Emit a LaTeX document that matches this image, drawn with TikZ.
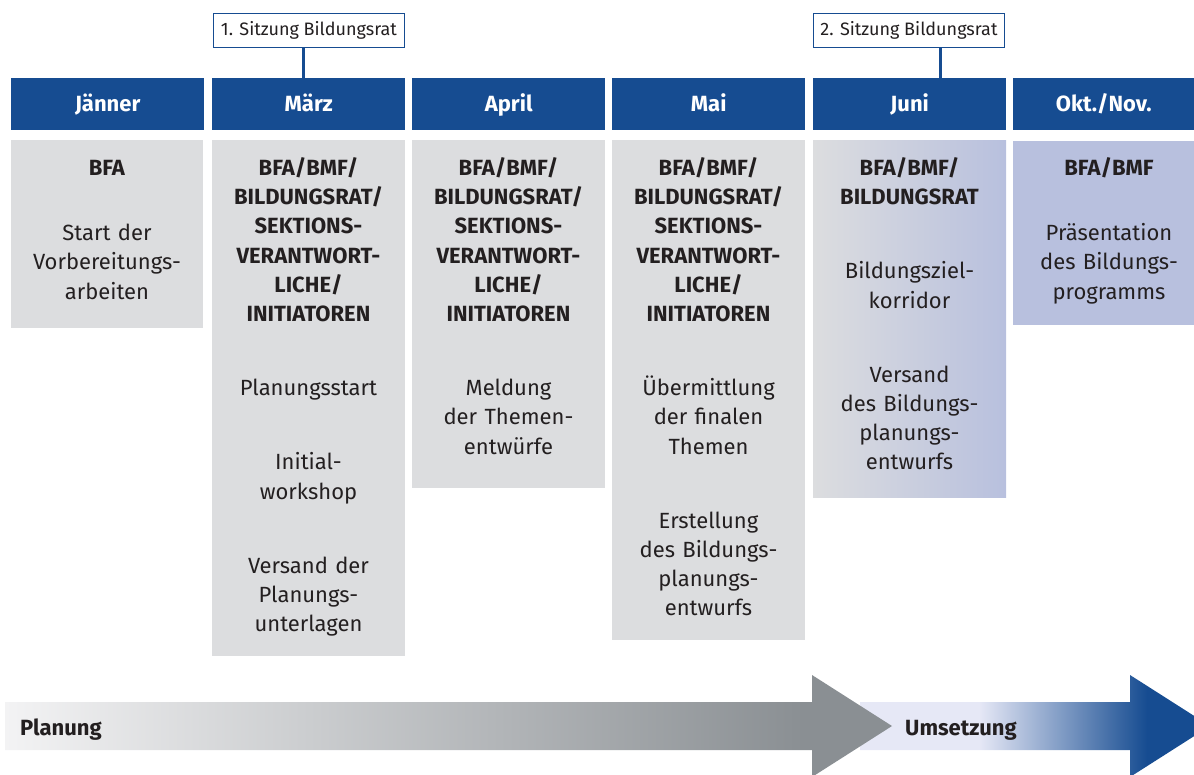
\documentclass[tikz,border=0pt]{standalone}
\usepackage{fontspec}
\setmainfont{Fira Sans}
\usetikzlibrary{positioning}

\definecolor{hdrblue}{RGB}{22,76,145}
\definecolor{boxgray}{RGB}{220,221,223}
\definecolor{boxlav}{RGB}{184,192,222}
\definecolor{textdark}{RGB}{35,31,32}
\definecolor{planlight}{RGB}{243,243,244}
\definecolor{plandark}{RGB}{138,143,147}
\definecolor{umlight}{RGB}{230,232,246}

\pgfdeclarehorizontalshading{planungshade}{100bp}{color(0bp)=(planlight); color(25bp)=(planlight); color(70bp)=(plandark); color(100bp)=(plandark)}
\pgfdeclarehorizontalshading{umsetzshade}{100bp}{color(0bp)=(umlight); color(25bp)=(umlight); color(42bp)=(umlight); color(66bp)=(hdrblue); color(100bp)=(hdrblue)}

\begin{document}
\begin{tikzpicture}[x=1pt,y=-1pt,
    month/.style={fill=hdrblue, text=white, font=\fontsize{22}{26}\selectfont\bfseries, minimum width=193pt, minimum height=52pt, text height=15pt, text depth=0pt, inner sep=0pt, anchor=north west},
    colbox/.style={fill=boxgray, minimum width=193pt, inner sep=0pt, anchor=north west},
    coltext/.style={text=textdark, font=\fontsize{22}{29.2}\selectfont, align=center, text width=185pt, inner sep=0pt, anchor=base},
    sitzung/.style={draw=hdrblue, line width=0.9pt, fill=white, text=textdark, font=\fontsize{18}{20}\selectfont, minimum width=191pt, minimum height=34pt, inner sep=0pt, anchor=north west},
    sitzline/.style={hdrblue, line width=3pt},
    phase/.style={text=textdark, font=\fontsize{22}{26}\selectfont\bfseries, inner sep=0pt, anchor=base west}]
  \useasboundingbox (0,0) rectangle (1194,774);

  % Sitzungen
  \node[sitzung] (sitz1) at (213,13) {1. Sitzung Bildungsrat};
  \node[sitzung] (sitz2) at (813,13) {2. Sitzung Bildungsrat};

  % Monate
  \node[month] (jan) at (11,78) {Jänner};
  \node[month] (maerz) at (212,78) {März};
  \node[month] (april) at (412,78) {April};
  \node[month] (mai) at (612,78) {Mai};
  \node[month] (juni) at (813,78) {Juni};
  \node[month, minimum width=181pt] (okt) at (1013,78) {Okt./Nov.};

  \coordinate (tick1) at (303,78);
  \coordinate (tick2) at (940,78);
  \draw[sitzline] (sitz1.south -| tick1) -- (tick1);
  \draw[sitzline] (sitz2.south -| tick2) -- (tick2);

  % Spalten
  \node[colbox, minimum width=192pt, minimum height=188pt] (jan-box) at (11,140) {};
  \node[colbox, minimum height=516pt] (maerz-box) at (212,140) {};
  \node[colbox, minimum height=348pt] (april-box) at (412,140) {};
  \node[colbox, minimum height=500pt] (mai-box) at (612,140) {};
  \node[colbox, minimum height=357pt, fill=none, left color=boxgray, right color=boxlav] (juni-box) at (813,140) {};
  \node[colbox, minimum width=181pt, minimum height=184pt, fill=boxlav] (okt-box) at (1013,141) {};

  \node[coltext] (jan-txt) at (107,175.5) {\textbf{BFA}\\[36pt]
    Start der\\ Vorbereitungs-\\ arbeiten};
  \node[coltext] (maerz-txt) at (308.5,175.5) {\textbf{BFA/BMF/}\\ \textbf{BILDUNGSRAT/}\\ \textbf{SEKTIONS-}\\
    \textbf{VERANTWORT-}\\ \textbf{LICHE/}\\ \textbf{INITIATOREN}\\[45pt]
    Planungsstart\\[45pt] Initial-\\ workshop\\[45pt] Versand der\\ Planungs-\\ unterlagen};
  \node[coltext] (april-txt) at (508.5,175.5) {\textbf{BFA/BMF/}\\ \textbf{BILDUNGSRAT/}\\ \textbf{SEKTIONS-}\\
    \textbf{VERANTWORT-}\\ \textbf{LICHE/}\\ \textbf{INITIATOREN}\\[45pt]
    Meldung\\ der Themen-\\ entwürfe};
  \node[coltext] (mai-txt) at (708.5,175.5) {\textbf{BFA/BMF/}\\ \textbf{BILDUNGSRAT/}\\ \textbf{SEKTIONS-}\\
    \textbf{VERANTWORT-}\\ \textbf{LICHE/}\\ \textbf{INITIATOREN}\\[45pt]
    Übermittlung\\ der finalen\\ Themen\\[45pt] Erstellung\\ des Bildungs-\\ planungs-\\ entwurfs};
  \node[coltext] (juni-txt) at (909.5,175.5) {\textbf{BFA/BMF/}\\ \textbf{BILDUNGSRAT}\\[45pt]
    Bildungsziel-\\ korridor\\[45pt] Versand\\ des Bildungs-\\ planungs-\\ entwurfs};
  \node[coltext] (okt-txt) at (1109,175.5) {\textbf{BFA/BMF}\\[36pt]
    Präsentation\\ des Bildungs-\\ programms};

  % Phasen
  \shade[shading=umsetzshade] (860,702) -- (1130,702) -- (1130,675) -- (1210,726) -- (1130,777) -- (1130,750) -- (860,750) -- cycle;
  \shade[shading=planungshade] (5,702) -- (812,702) -- (812,675) -- (892,726) -- (812,777) -- (812,750) -- (5,750) -- cycle;
  \node[phase] (planung) at (20,735) {Planung};
  \node[phase] (umsetzung) at (905,735) {Umsetzung};
\end{tikzpicture}
\end{document}
